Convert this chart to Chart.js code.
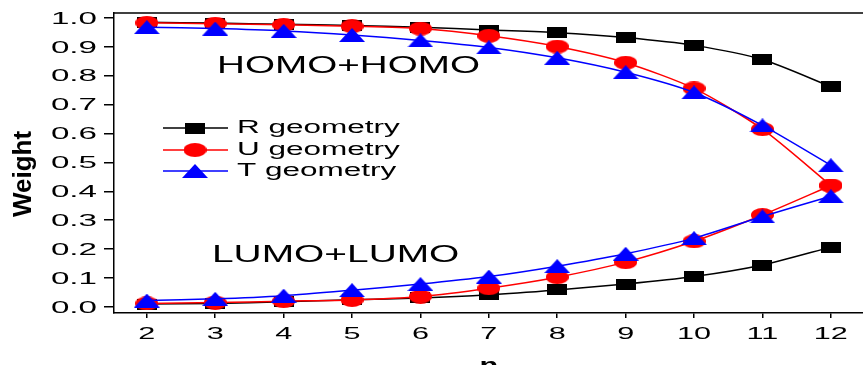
<!DOCTYPE html>
<html>
<head>
<meta charset="utf-8">
<script src="https://cdn.jsdelivr.net/npm/chart.js@4/dist/chart.umd.min.js"></script>
<style>
  html, body { margin: 0; padding: 0; background: #fff; overflow: hidden; }
  #box { width: 863px; height: 365px; position: relative; }
  #cv { display: block; }
</style>
</head>
<body>
<div id="box"><canvas id="cv"></canvas></div>
<script>
// ─── dados ───
var nValues = [2, 3, 4, 5, 6, 7, 8, 9, 10, 11, 12];
var yTicks = [0.0, 0.1, 0.2, 0.3, 0.4, 0.5, 0.6, 0.7, 0.8, 0.9, 1.0];
var rHomo = [0.985, 0.982, 0.978, 0.974, 0.968, 0.958, 0.949, 0.932, 0.905, 0.856, 0.762];
var uHomo = [0.983, 0.980, 0.976, 0.971, 0.963, 0.938, 0.901, 0.845, 0.756, 0.615, 0.420];
var tHomo = [0.968, 0.963, 0.955, 0.941, 0.922, 0.898, 0.862, 0.812, 0.742, 0.628, 0.490];
var rLumo = [0.010, 0.012, 0.018, 0.025, 0.031, 0.042, 0.059, 0.079, 0.105, 0.145, 0.207];
var uLumo = [0.012, 0.015, 0.020, 0.024, 0.036, 0.065, 0.103, 0.155, 0.227, 0.318, 0.420];
var tLumo = [0.022, 0.028, 0.039, 0.058, 0.079, 0.105, 0.141, 0.184, 0.238, 0.313, 0.383];
var legendLabels = ['R geometry', 'U geometry', 'T geometry'];

var FONT = "'Liberation Sans', Arial, sans-serif";

// marcadores (desenhados num canvas próprio)
function marker(kind, w, h, cor) {
  var c = document.createElement('canvas');
  c.width = w; c.height = h;
  var g = c.getContext('2d');
  g.fillStyle = cor;
  if (kind === 'sq') g.fillRect(0, 0, w, h);
  else if (kind === 'el') { g.beginPath(); g.ellipse(w / 2, h / 2, w / 2, h / 2, 0, 0, Math.PI * 2); g.fill(); }
  else { g.beginPath(); g.moveTo(w / 2, 0); g.lineTo(w, h); g.lineTo(0, h); g.closePath(); g.fill(); }
  return c;
}
var mkR = marker('sq', 20, 11, '#000');
var mkU = marker('el', 23, 14, '#ff0000');
var mkT = marker('tri', 26, 14, '#0000ff');

function serie(vals, cor, mk, ordem) {
  return {
    data: vals.map(function(v, i) { return { x: nValues[i], y: v }; }),
    borderColor: cor, borderWidth: 1.5, backgroundColor: cor,
    pointStyle: mk, pointRadius: 10, tension: 0.25, order: ordem
  };
}

// texto esticado na horizontal (a figura original é larga)
function wideText(ctx, txt, x, y, sx, font, align, base) {
  ctx.save();
  ctx.font = font;
  ctx.textBaseline = base || 'middle';
  var w = ctx.measureText(txt).width * sx;
  var x0 = align === 'right' ? x - w : (align === 'center' ? x - w / 2 : x);
  ctx.translate(x0, y);
  ctx.scale(sx, 1);
  ctx.textAlign = 'left';
  ctx.fillText(txt, 0, 0);
  ctx.restore();
}

var extras = {
  id: 'extras',
  afterDraw: function(chart) {
    var ctx = chart.ctx, a = chart.chartArea;
    var xs = chart.scales.x, ys = chart.scales.y;
    ctx.save();
    ctx.fillStyle = '#000';
    // moldura de cima
    ctx.strokeStyle = '#000'; ctx.lineWidth = 1.5;
    ctx.beginPath(); ctx.moveTo(a.left, a.top); ctx.lineTo(a.right, a.top); ctx.stroke();
    // rótulos dos eixos
    yTicks.forEach(function(v) { wideText(ctx, v.toFixed(1), 97, ys.getPixelForValue(v) + 1, 1.95, '17px ' + FONT, 'right'); });
    nValues.forEach(function(v) { wideText(ctx, String(v), xs.getPixelForValue(v), 334, 1.8, '17px ' + FONT, 'center'); });
    // anotações
    wideText(ctx, 'HOMO+HOMO', 217, 66, 1.61, '24px ' + FONT, 'left');
    wideText(ctx, 'LUMO+LUMO', 212, 255, 1.62, '24px ' + FONT, 'left');
    // legenda
    var ds = chart.data.datasets;
    var rows = [128, 150, 171];
    rows.forEach(function(yy, i) {
      var d = ds[i];
      ctx.strokeStyle = d.borderColor; ctx.lineWidth = 1.5;
      ctx.beginPath(); ctx.moveTo(163, yy); ctx.lineTo(228, yy); ctx.stroke();
      var m = d.pointStyle;
      ctx.drawImage(m, 195 - m.width / 2, yy - m.height / 2);
      ctx.fillStyle = '#000';
      wideText(ctx, legendLabels[i], 237, yy, 1.75, '18px ' + FONT, 'left');
    });
    // títulos
    ctx.save();
    ctx.translate(24, 174); ctx.rotate(-Math.PI / 2);
    ctx.font = "bold 26px 'Liberation Sans Narrow', 'Liberation Sans', Arial, sans-serif";
    ctx.textAlign = 'center'; ctx.textBaseline = 'middle';
    ctx.fillText('Weight', 0, 0);
    ctx.restore();
    wideText(ctx, 'n', 489, 356, 1.4, 'bold 22px ' + FONT, 'center', 'top');
    ctx.restore();
  }
};

new Chart(document.getElementById('cv'), {
  type: 'line',
  data: {
    datasets: [
      serie(rHomo, '#000000', mkR, 2),
      serie(uHomo, '#ff0000', mkU, 1),
      serie(tHomo, '#0000ff', mkT, 0),
      serie(rLumo, '#000000', mkR, 2),
      serie(uLumo, '#ff0000', mkU, 1),
      serie(tLumo, '#0000ff', mkT, 0)
    ]
  },
  options: {
    responsive: true, maintainAspectRatio: false, animation: false,
    layout: { autoPadding: false, padding: { top: 13, right: 0, left: 0, bottom: 0 } },
    plugins: { legend: { display: false }, tooltip: { enabled: false } },
    scales: {
      x: {
        type: 'linear', min: 1.52, max: 12.47,
        afterBuildTicks: function(s) { s.ticks = nValues.map(function(v) { return { value: v }; }); },
        afterFit: function(s) { s.height = 52; },
        ticks: { display: false },
        grid: { drawOnChartArea: false, drawTicks: true, tickLength: 5, color: '#000', lineWidth: 1.5 },
        border: { display: true, color: '#000', width: 1.5 }
      },
      y: {
        min: -0.021, max: 1.017,
        afterBuildTicks: function(s) { s.ticks = yTicks.map(function(v) { return { value: v }; }); },
        afterFit: function(s) { s.width = 114; },
        ticks: { display: false },
        grid: { drawOnChartArea: false, drawTicks: true, tickLength: 10, color: '#000', lineWidth: 1.5 },
        border: { display: true, color: '#000', width: 1.5 }
      }
    }
  },
  plugins: [extras]
});
</script>
</body>
</html>
